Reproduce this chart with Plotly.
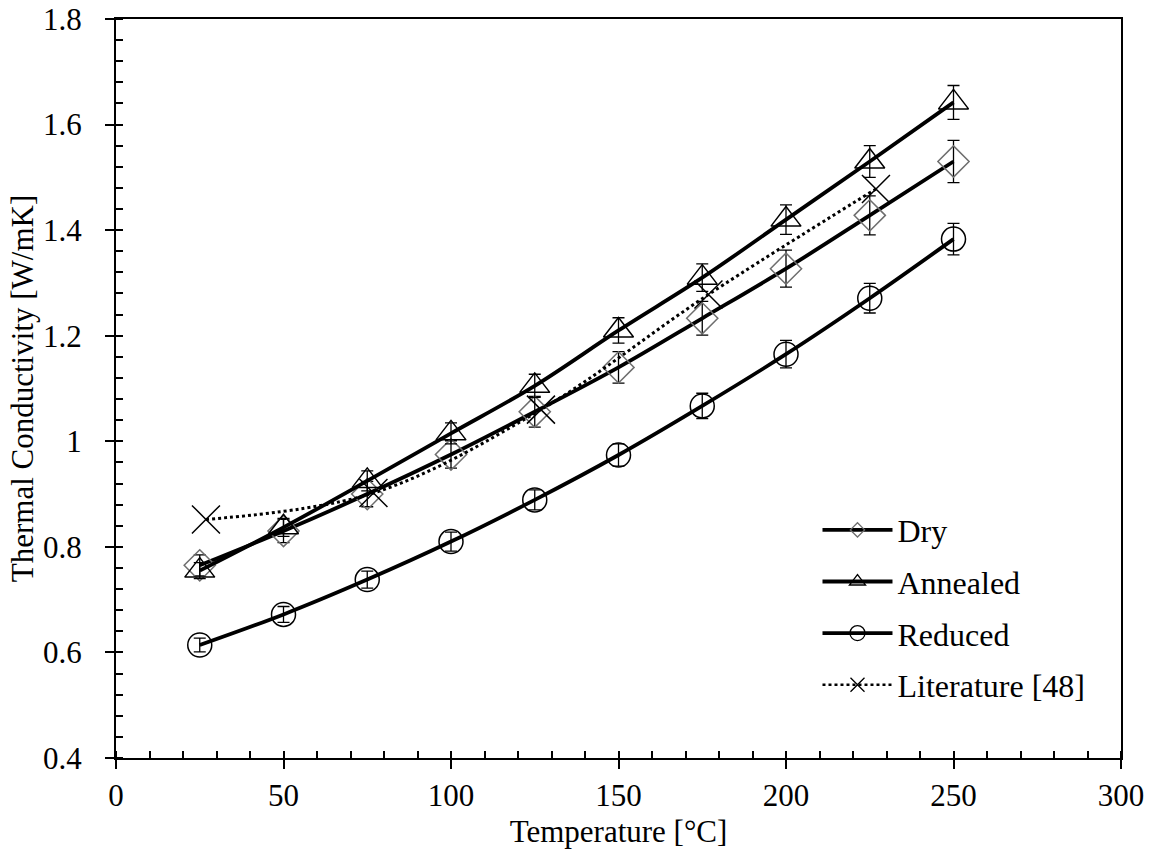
import plotly.graph_objects as go

# Measured thermal conductivity [W/mK] vs temperature [°C]
temps = [25, 50, 75, 100, 125, 150, 175, 200, 225, 250]

dry = [0.765, 0.830, 0.900, 0.975, 1.056, 1.140, 1.233, 1.327, 1.428, 1.530]
dry_err = [0.020, 0.022, 0.024, 0.026, 0.029, 0.030, 0.032, 0.035, 0.037, 0.040]

annealed = [0.755, 0.837, 0.925, 1.015, 1.105, 1.210, 1.310, 1.420, 1.530, 1.642]
annealed_err = [0.015, 0.017, 0.019, 0.020, 0.022, 0.024, 0.026, 0.028, 0.030, 0.032]

reduced = [0.614, 0.672, 0.738, 0.810, 0.889, 0.974, 1.067, 1.165, 1.271, 1.383]
reduced_err = [0.013, 0.015, 0.016, 0.018, 0.019, 0.021, 0.024, 0.026, 0.028, 0.030]

# Reference values (300-500 K)
lit_temps = [26.85, 76.85, 126.85, 176.85, 226.85]
literature = [0.852, 0.902, 1.060, 1.278, 1.478]

x_ticks = [0, 50, 100, 150, 200, 250, 300]
y_ticks = [0.4, 0.6, 0.8, 1.0, 1.2, 1.4, 1.6, 1.8]
y_tick_text = ["0.4", "0.6", "0.8", "1", "1.2", "1.4", "1.6", "1.8"]

FONT = "Liberation Serif, Times New Roman, serif"
FS_TICK = 31
FS_TITLE = 31
FS_LEGEND = 32
GRAY = "#6e6e6e"

fig = go.Figure()


def err(values):
    return dict(type="data", array=values, visible=True, color="black",
                thickness=1.3, width=6)


# Data series (legend entries are drawn by separate legend-only traces below)
fig.add_trace(go.Scatter(
    x=temps, y=dry, mode="lines+markers", line=dict(color="black", width=3.8, shape="spline"),
    marker=dict(symbol="diamond-open", size=24, color=GRAY, line=dict(width=1.5, color=GRAY)),
    error_y=err(dry_err), showlegend=False, name="Dry"))
fig.add_trace(go.Scatter(
    x=temps, y=annealed, mode="lines+markers", line=dict(color="black", width=3.8, shape="spline"),
    marker=dict(symbol="triangle-up-open", size=26, color="black", line=dict(width=1.5, color="black")),
    error_y=err(annealed_err), showlegend=False, name="Annealed"))
fig.add_trace(go.Scatter(
    x=temps, y=reduced, mode="lines+markers", line=dict(color="black", width=3.8, shape="spline"),
    marker=dict(symbol="circle-open", size=24, color="black", line=dict(width=1.5, color="black")),
    error_y=err(reduced_err), showlegend=False, name="Reduced"))
fig.add_trace(go.Scatter(
    x=lit_temps, y=literature, mode="lines+markers",
    line=dict(color="black", width=3, dash="dot", shape="spline"),
    marker=dict(symbol="x-thin-open", size=28, color="black", line=dict(width=1.5, color="black")),
    showlegend=False, name="Literature [48]"))

# Legend entries with smaller symbols
legend_specs = [
    ("Dry", "diamond-open", 11, GRAY, dict(color="black", width=3.8)),
    ("Annealed", "triangle-up-open", 14, "black", dict(color="black", width=3.8)),
    ("Reduced", "circle-open", 15, "black", dict(color="black", width=3.8)),
    ("Literature [48]", "x-thin-open", 14, "black", dict(color="black", width=2.5, dash="dot")),
]
for i, (name, sym, size, col, ln) in enumerate(legend_specs):
    fig.add_trace(go.Scatter(
        x=[None], y=[None], mode="lines+markers", name=name, legendgroup=f"g{i}",
        line=ln, marker=dict(symbol=sym, size=size, color=col, line=dict(width=1.3, color=col))))

axis_common = dict(showgrid=False, zeroline=False, color="black", automargin=False)

fig.update_layout(
    template="none",
    width=1153, height=863,
    margin=dict(l=116, r=32, t=19, b=105),
    paper_bgcolor="white", plot_bgcolor="white",
    font=dict(family=FONT, size=FS_TICK, color="black"),
    showlegend=True,
    legend=dict(x=0.698, y=0.3456, xanchor="left", yanchor="top",
                bgcolor="rgba(0,0,0,0)", font=dict(size=FS_LEGEND, family=FONT),
                itemwidth=70, traceorder="grouped", tracegroupgap=7),
    xaxis=dict(range=[0, 300], tickvals=x_ticks, ticks="outside", ticklen=9, tickwidth=1.5,
               tickcolor="black", showline=True, linewidth=2, linecolor="black", mirror=True,
               tickfont=dict(size=FS_TICK),
               minor=dict(ticks="inside", dtick=10, tick0=0, ticklen=7, tickwidth=1.5, tickcolor="black"),
               title=dict(text="Temperature [°C]", font=dict(size=FS_TITLE), standoff=8),
               ticklabelstandoff=0, **axis_common),
    yaxis=dict(range=[0.4, 1.8], tickvals=y_ticks, ticktext=y_tick_text, ticks="outside", ticklen=9,
               tickwidth=1.5, tickcolor="black", showline=True, linewidth=2, linecolor="black",
               mirror=True, tickfont=dict(size=FS_TICK),
               minor=dict(ticks="inside", dtick=0.04, tick0=0.4, ticklen=7, tickwidth=1.5, tickcolor="black"),
               title=dict(text="Thermal Conductivity [W/mK]", font=dict(size=FS_TITLE), standoff=0),
               ticklabelstandoff=17, **axis_common),
    # inner halves of the major ticks
    xaxis2=dict(range=[0, 300], tickvals=x_ticks, ticks="inside", ticklen=9, tickwidth=1.5,
                tickcolor="black", showticklabels=False, overlaying="x", anchor="y",
                side="bottom", showline=False, **axis_common),
    yaxis2=dict(range=[0.4, 1.8], tickvals=y_ticks, ticks="inside", ticklen=9, tickwidth=1.5,
                tickcolor="black", showticklabels=False, overlaying="y", anchor="x",
                side="left", showline=False, **axis_common),
)

fig.write_html("out.html")
